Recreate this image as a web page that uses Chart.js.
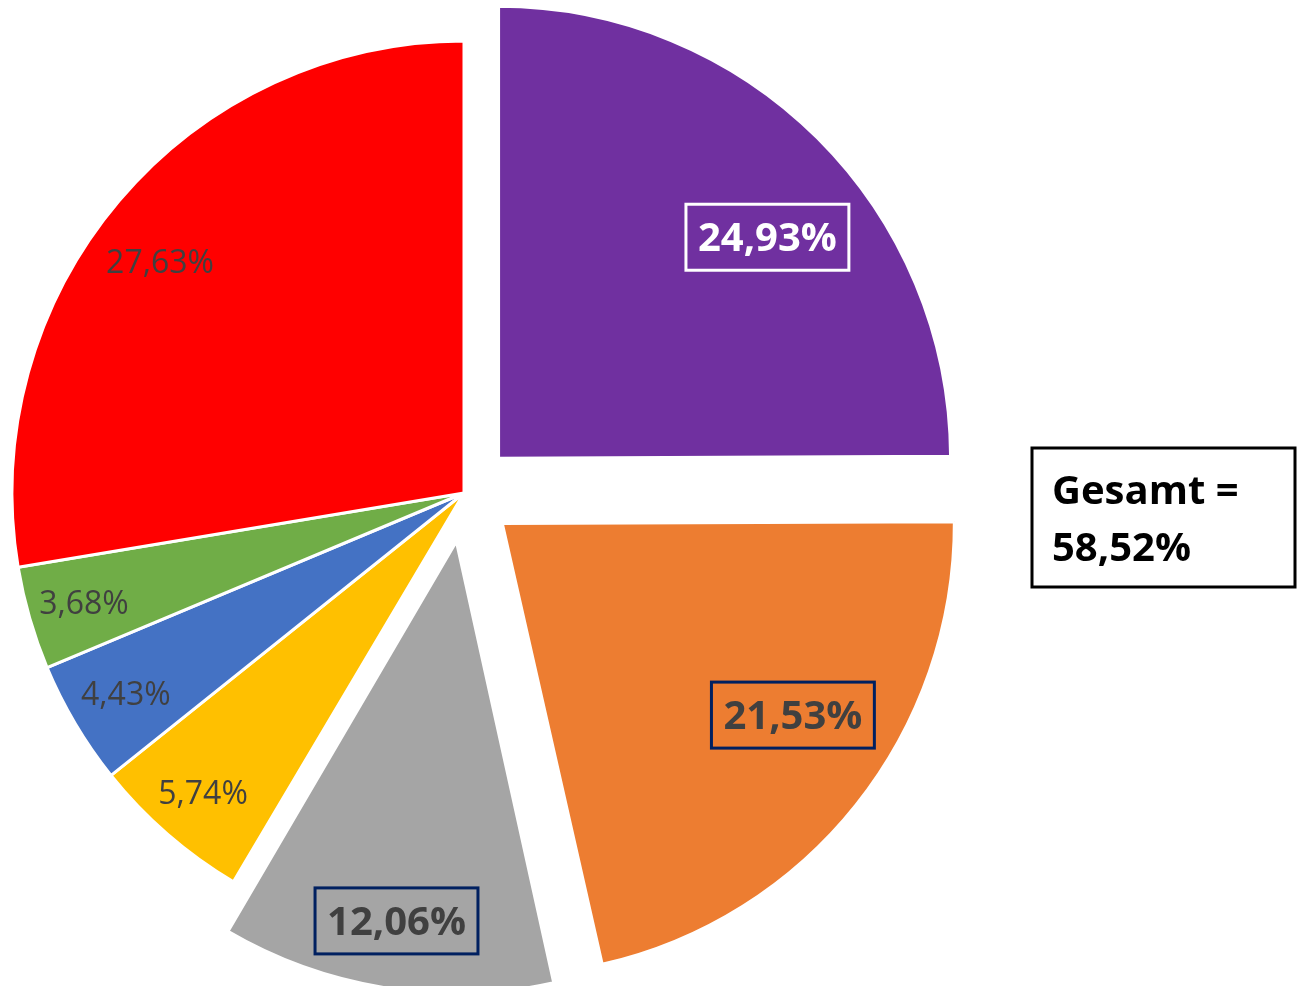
<!DOCTYPE html>
<html lang="de">
<head>
<meta charset="utf-8">
<title>Anteile</title>
<script src="https://cdn.jsdelivr.net/npm/chart.js@4/dist/chart.umd.min.js"></script>
<style>
  html, body { margin: 0; padding: 0; background: #fff; }
  #wrap { width: 1305px; height: 986px; }
</style>
</head>
<body>
<div id="wrap"><canvas id="pie" width="1305" height="986"></canvas></div>
<script>
// Pie with three pulled-out slices; their sum goes into the box on the right.

const SLICES = ['Lila', 'Orange', 'Grau', 'Gelb', 'Blau', 'Grün', 'Rot'];
const SHARES = [24.93, 21.53, 12.06, 5.74, 4.43, 3.68, 27.63];
const EXPLODED = [true, true, true, false, false, false, false];
const SLICE_COLORS = ['#7030a0', '#ed7d31', '#a5a5a5', '#ffc000', '#4472c4', '#70ad47', '#ff0000'];
const TOTAL_LABEL = 'Gesamt =';

// label placement: share of the radius, and a small turn (deg) off the mid-angle
const LABEL_RADIUS = [0.77, 0.77, 0.85, 0.88, 0.87, 0.875, 0.845];
const LABEL_TURN = [5.7, -5.1, 0, 0, 0, 0, -3];

const RADIUS = 452;
const OFFSET = 49; // px the exploded slices are pushed out
const FONT = '"Open Sans", "Noto Sans", sans-serif';
const TEXT = '#404040';
const NAVY = '#002060';

const fmt = (v) => v.toFixed(2).replace('.', ',') + '%';

// Chart.js grows narrow offset slices a bit; keep them at the pie's radius.
const keepRadius = {
  id: 'keepRadius',
  beforeDatasetsDraw(chart) {
    chart.getDatasetMeta(0).data.forEach((arc) => {
      const off = (arc.options.offset || 0) / 4;
      const fix = 1 - Math.sin(Math.min(Math.PI, arc.circumference));
      arc.outerRadius = RADIUS - off * fix;
    });
  },
};

const sliceLabels = {
  id: 'sliceLabels',
  afterDatasetsDraw(chart) {
    const ctx = chart.ctx;
    const meta = chart.getDatasetMeta(0);
    ctx.save();
    ctx.textAlign = 'center';
    ctx.textBaseline = 'alphabetic';
    meta.data.forEach((arc, i) => {
      const mid = (arc.startAngle + arc.endAngle) / 2;
      const shift = EXPLODED[i] ? OFFSET : 0;
      const cx = arc.x + Math.cos(mid) * shift;
      const cy = arc.y + Math.sin(mid) * shift;
      const a = mid + LABEL_TURN[i] * Math.PI / 180;
      const r = RADIUS * LABEL_RADIUS[i];
      const x = cx + Math.cos(a) * r;
      const y = cy + Math.sin(a) * r;
      const txt = fmt(SHARES[i]);
      if (EXPLODED[i]) {
        ctx.font = 'bold 40px ' + FONT;
        const w = ctx.measureText(txt).width + 24;
        const h = 66;
        const light = i === 0;
        ctx.lineWidth = 3;
        ctx.strokeStyle = light ? '#fff' : NAVY;
        ctx.strokeRect(x - w / 2, y - h / 2, w, h);
        ctx.fillStyle = light ? '#fff' : TEXT;
        ctx.fillText(txt, x, y + 14);
      } else {
        ctx.font = '32px ' + FONT;
        ctx.fillStyle = TEXT;
        ctx.fillText(txt, x, y + 11);
      }
    });

    // total of the pulled-out slices
    const total = SHARES.reduce((s, v, i) => s + (EXPLODED[i] ? v : 0), 0);
    ctx.lineWidth = 3;
    ctx.strokeStyle = '#000';
    ctx.strokeRect(1032, 448, 263, 139);
    ctx.fillStyle = '#000';
    ctx.textAlign = 'left';
    ctx.font = 'bold 40px ' + FONT;
    ctx.fillText(TOTAL_LABEL, 1052, 504);
    ctx.fillText(fmt(total), 1052, 561);
    ctx.restore();
  },
};

new Chart(document.getElementById('pie'), {
  type: 'pie',
  data: {
    labels: SLICES,
    datasets: [{
      data: SHARES,
      backgroundColor: SLICE_COLORS,
      borderColor: '#fff',
      borderWidth: 3,
      offset: EXPLODED.map((e) => (e ? OFFSET * 4 : 0)),
      hoverOffset: 0,
    }],
  },
  options: {
    responsive: false,
    animation: false,
    devicePixelRatio: 1,
    radius: RADIUS,
    layout: { padding: { left: 0, right: 377, top: 0, bottom: 0 } },
    events: [],
    plugins: { legend: { display: false }, tooltip: { enabled: false } },
  },
  plugins: [keepRadius, sliceLabels],
});
</script>
</body>
</html>
